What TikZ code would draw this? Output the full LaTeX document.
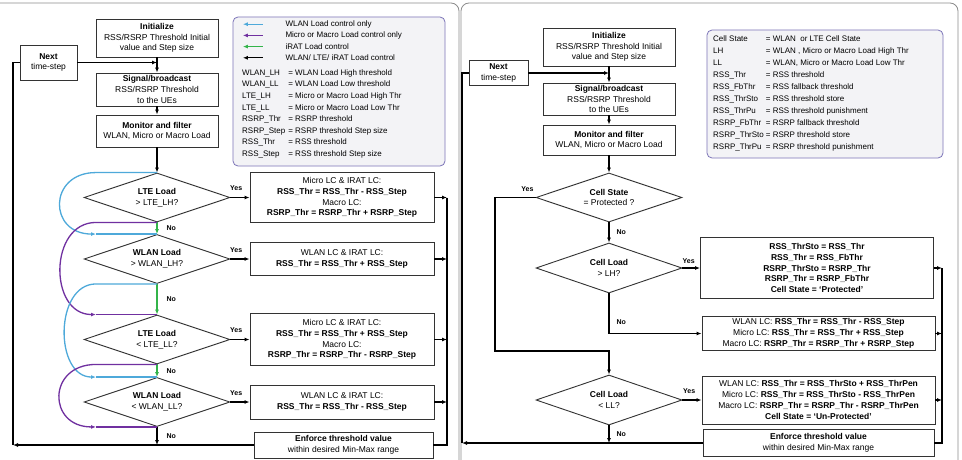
\documentclass[tikz,border=0pt]{standalone}
\usepackage{fontspec}
\setmainfont{Liberation Sans}
\usetikzlibrary{shapes.geometric,arrows.meta,calc}
\definecolor{Sky}{HTML}{4EA9DA}
\definecolor{Violet}{HTML}{7030A0}
\definecolor{Leaf}{HTML}{33B44A}
\definecolor{Frame}{HTML}{8C8C8C}
\definecolor{KeyLine}{HTML}{7C74B8}
\definecolor{KeyFill}{HTML}{F3F3F6}

\begin{document}
\begin{tikzpicture}
    [x=1pt, y=-1pt, >={Latex[length=5pt,width=4pt]},
    process/.style={draw=black!80, line width=0.9pt, fill=white, align=center, inner sep=0pt, font=\fontsize{8.5}{10.7}\selectfont},
    decision/.style={diamond, aspect=3, draw=black!80, line width=0.9pt, fill=white, inner sep=0pt, minimum width=146pt, minimum height=49pt, align=center, font=\fontsize{8.5}{10.7}\selectfont},
    flow/.style={line width=1.2pt, ->},
    wire/.style={line width=1.2pt},
    answer/.style={font=\bfseries\fontsize{7}{8}\selectfont, inner sep=1pt},
    keybox/.style={draw=KeyLine, fill=KeyFill, line width=0.8pt, rounded corners=5pt},
    panel/.style={draw=Frame, line width=0.8pt, rounded corners=8pt},
    loop/.style={line width=1.3pt}]

    \clip (0,0) rectangle (962,460);
    \fill[white] (0,0) rectangle (962,460);
    \draw[panel] (-10,3) rectangle (459,475);
    \draw[panel] (461,3) rectangle (958,475);

    % legend, left panel
    \draw[keybox] (233,17) rectangle (445,166);
    \matrix (keyArrows) [anchor=north west, inner sep=0pt, row sep=0pt, column sep=22pt,
        nodes={anchor=west, inner sep=0pt, minimum height=11.2pt, font=\fontsize{8}{9}\selectfont}] at (242,18.4) {
        \draw[loop, Sky, <-] (0,0) -- (20,0); & \node {WLAN Load control only};\\
        \draw[loop, Violet, <-] (0,0) -- (20,0); & \node {Micro or Macro Load control only};\\
        \draw[loop, Leaf, <-] (0,0) -- (20,0); & \node {iRAT Load control};\\
        \draw[loop, black, <-] (0,0) -- (20,0); & \node {WLAN/ LTE/ iRAT Load control};\\
    };
    \node[anchor=north west, inner sep=0pt] (keyTermsL) at (242,67) {\fontsize{8}{11.6}\selectfont
        \begin{tabular}{@{}l@{\hspace{3pt}}l@{}}
        WLAN\_LH & = WLAN Load High threshold\\
        WLAN\_LL & = WLAN Load Low threshold\\
        LTE\_LH & = Micro or Macro Load High Thr\\
        LTE\_LL & = Micro or Macro Load Low Thr\\
        RSRP\_Thr & = RSRP threshold\\
        RSRP\_Step & = RSRP threshold Step size\\
        RSS\_Thr & = RSS threshold\\
        RSS\_Step & = RSS threshold Step size
        \end{tabular}};

    % legend, right panel
    \draw[keybox] (707,30) rectangle (943,158);
    \node[anchor=north west, inner sep=0pt] (keyTermsR) at (713,32.8) {\fontsize{8}{12.05}\selectfont
        \begin{tabular}{@{}l@{\hspace{2pt}}l@{}}
        Cell State & = WLAN\ \ or LTE Cell State\\
        LH & = WLAN , Micro or Macro Load High Thr\\
        LL & = WLAN, Micro or Macro Load Low Thr\\
        RSS\_Thr & = RSS threshold\\
        RSS\_FbThr & = RSS fallback threshold\\
        RSS\_ThrSto & = RSS threshold store\\
        RSS\_ThrPu & = RSS threshold punishment\\
        RSRP\_FbThr & = RSRP fallback threshold\\
        RSRP\_ThrSto & = RSRP threshold store\\
        RSRP\_ThrPu & = RSRP threshold punishment
        \end{tabular}};

    % left flow chart
    \node[process, minimum width=122pt, minimum height=38pt] (init) at (157,38) {\textbf{Initialize}\\RSS/RSRP Threshold Initial\\value and Step size};
    \node[process, minimum width=57pt, minimum height=35pt] (next) at (48.5,62.5) {\textbf{Next}\\time-step};
    \node[process, minimum width=122pt, minimum height=33pt] (signal) at (157,89.5) {\textbf{Signal/broadcast}\\RSS/RSRP Threshold\\to the UEs};
    \node[process, minimum width=122pt, minimum height=32pt] (monitor) at (157,131) {\textbf{Monitor and filter}\\WLAN, Micro or Macro Load};

    \node[decision] (lteHigh) at (157,197.5) {\textbf{LTE Load}\\> LTE\_LH?};
    \node[decision] (wlanHigh) at (157,259) {\textbf{WLAN Load}\\> WLAN\_LH?};
    \node[decision] (lteLow) at (157,339.5) {\textbf{LTE Load}\\< LTE\_LL?};
    \node[decision] (wlanLow) at (157,402) {\textbf{WLAN Load}\\< WLAN\_LL?};

    \node[process, minimum width=184pt, minimum height=50pt] (lteHighAct) at (342,197.5) {Micro LC \& IRAT LC:\\\textbf{RSS\_Thr = RSS\_Thr - RSS\_Step}\\Macro LC:\\\textbf{RSRP\_Thr = RSRP\_Thr + RSRP\_Step}};
    \node[process, minimum width=184pt, minimum height=33pt] (wlanHighAct) at (342,259) {WLAN LC \& IRAT LC:\\\textbf{RSS\_Thr = RSS\_Thr + RSS\_Step}};
    \node[process, minimum width=184pt, minimum height=52pt] (lteLowAct) at (342,339.5) {Micro LC \& IRAT LC:\\\textbf{RSS\_Thr = RSS\_Thr + RSS\_Step}\\Macro LC:\\\textbf{RSRP\_Thr = RSRP\_Thr - RSRP\_Step}};
    \node[process, minimum width=184pt, minimum height=34pt] (wlanLowAct) at (342,402) {WLAN LC \& IRAT LC:\\\textbf{RSS\_Thr = RSS\_Thr - RSS\_Step}};
    \node[process, minimum width=179pt, minimum height=26pt] (enforce) at (343.5,445) {\textbf{Enforce threshold value}\\within desired Min-Max range};

    \coordinate (mergeL) at (447,0);
    \coordinate (backL) at (13,0);

    \draw[flow] (init) -- (signal);
    \draw[flow] (next.east) -- (next.east -| init.south);
    \draw[flow] (signal) -- (monitor);
    \draw[flow] (monitor) -- (lteHigh.north);
    \draw[flow, Leaf] (lteHigh.south) -- node[answer, right=8pt, text=black] {No} (wlanHigh.north);
    \draw[flow, Leaf] (wlanHigh.south) -- node[answer, right=8pt, text=black] {No} (lteLow.north);
    \draw[flow, Leaf] (lteLow.south) -- node[answer, right=8pt, text=black] {No} (wlanLow.north);
    \draw[flow] (wlanLow.south) -- node[answer, right=8pt] {No} (wlanLow.south |- enforce.west);

    \draw[flow] (lteHigh.east) -- node[answer, above, pos=0.3, yshift=5pt] {Yes} (lteHighAct.west);
    \draw[flow] (wlanHigh.east) -- node[answer, above, pos=0.3, yshift=5pt] {Yes} (wlanHighAct.west);
    \draw[flow] (lteLow.east) -- node[answer, above, pos=0.3, yshift=5pt] {Yes} (lteLowAct.west);
    \draw[flow] (wlanLow.east) -- node[answer, above, pos=0.3, yshift=5pt] {Yes} (wlanLowAct.west);

    \draw[flow] (lteHighAct.east) -- (lteHighAct.east -| mergeL);
    \draw[flow] (wlanHighAct.east) -- (wlanHighAct.east -| mergeL);
    \draw[flow] (lteLowAct.east) -- (lteLowAct.east -| mergeL);
    \draw[flow] (wlanLowAct.east) -- (wlanLowAct.east -| mergeL);
    \draw[wire] (lteHighAct.east -| mergeL) |- (enforce.east);
    \draw[flow] (enforce.west) -- (enforce.west -| backL);
    \draw[wire] (enforce.west -| backL) |- (next.west);

    % bypass loops
    \draw[loop, Sky, ->] (lteHigh.north) -- ++(-61,0) to[out=180, in=180, looseness=2] ($(wlanHigh.north)+(-61,0)$);
    \draw[loop, Sky] ($(wlanHigh.north)+(-61,0)$) -- (wlanHigh.north);
    \draw[loop, Violet, ->] (lteHigh.south) -- ++(-61,0) to[out=180, in=180, looseness=1.32] ($(lteLow.north)+(-61,0)$);
    \draw[loop, Violet] ($(lteLow.north)+(-61,0)$) -- (lteLow.north);
    \draw[loop, Sky, ->] (wlanHigh.south) -- ++(-61,0) to[out=180, in=180, looseness=1.15] ($(wlanLow.north)+(-61,0)$);
    \draw[loop, Sky] ($(wlanLow.north)+(-61,0)$) -- (wlanLow.north);
    \draw[loop, Violet, ->] (lteLow.south) -- ++(-61,0) to[out=180, in=180, looseness=2] ($(wlanLow.south)+(-61,0)$);
    \draw[loop, Violet] ($(wlanLow.south)+(-61,0)$) -- (wlanLow.south);

    % right flow chart
    \node[process, minimum width=132pt, minimum height=38pt] (init2) at (609,47) {\textbf{Initialize}\\RSS/RSRP Threshold Initial\\value and Step size};
    \node[process, minimum width=59pt, minimum height=25pt] (next2) at (498.5,73) {\textbf{Next}\\time-step};
    \node[process, minimum width=132pt, minimum height=32pt] (signal2) at (609,99) {\textbf{Signal/broadcast}\\RSS/RSRP Threshold\\to the UEs};
    \node[process, minimum width=132pt, minimum height=30pt] (monitor2) at (609,140) {\textbf{Monitor and filter}\\WLAN, Micro or Macro Load};

    \node[decision] (state) at (609,197.5) {\textbf{Cell State}\\= Protected ?};
    \node[decision, minimum height=50pt] (loadHigh) at (609,268) {\textbf{Cell Load}\\> LH?};
    \node[decision, minimum height=50pt] (loadLow) at (609,400) {\textbf{Cell Load}\\< LL?};

    \node[process, minimum width=233pt, minimum height=61pt, font=\bfseries\fontsize{8.5}{10.8}\selectfont] (protect) at (817,268) {RSS\_ThrSto = RSS\_Thr\\RSS\_Thr = RSS\_FbThr\\RSRP\_ThrSto = RSRP\_Thr\\RSRP\_Thr = RSRP\_FbThr\\Cell State = `Protected'};
    \node[process, minimum width=233pt, minimum height=34pt] (stepAct) at (818.5,333.5) {WLAN LC: \textbf{RSS\_Thr = RSS\_Thr - RSS\_Step}\\Micro LC: \textbf{RSS\_Thr = RSS\_Thr + RSS\_Step}\\Macro LC: \textbf{RSRP\_Thr = RSRP\_Thr + RSRP\_Step}};
    \node[process, minimum width=233pt, minimum height=48pt] (unprotect) at (818.5,400) {WLAN LC: \textbf{RSS\_Thr = RSS\_ThrSto + RSS\_ThrPen}\\Micro LC: \textbf{RSS\_Thr = RSS\_ThrSto - RSS\_ThrPen}\\Macro LC: \textbf{RSRP\_Thr = RSRP\_Thr - RSRP\_ThrPen}\\\textbf{Cell State = `Un-Protected'}};
    \node[process, minimum width=231pt, minimum height=27pt] (enforce2) at (818.5,443) {\textbf{Enforce threshold value}\\within desired Min-Max range};

    \coordinate (mergeR) at (942,0);
    \coordinate (backR) at (462,0);
    \coordinate (skip) at (495,351);

    \draw[flow] (init2) -- (signal2);
    \draw[flow] (next2.east) -- (next2.east -| init2.south);
    \draw[flow] (signal2) -- (monitor2);
    \draw[flow] (monitor2) -- (state.north);
    \draw[flow] (state.south) -- node[answer, right=6pt] {No} (loadHigh.north);
    \draw[flow] (state.west) -- node[answer, above, pos=0.2, yshift=4pt] {Yes} (state.west -| skip) -- (skip) -| (loadLow.north);
    \draw[flow] (loadHigh.east) -- node[answer, above, pos=0.35, yshift=3pt] {Yes} (protect.west);
    \draw[flow] (loadHigh.south) |- node[answer, right=6pt, pos=0.36] {No} (stepAct.west);
    \draw[flow] (loadLow.east) -- node[answer, above, pos=0.35, yshift=5pt] {Yes} (unprotect.west);
    \draw[flow] (loadLow.south) -- node[answer, right=6pt] {No} (loadLow.south |- enforce2.west);

    \draw[flow] (protect.east) -- (protect.east -| mergeR);
    \draw[flow] (stepAct.east) -- (stepAct.east -| mergeR);
    \draw[flow] (unprotect.east) -- (unprotect.east -| mergeR);
    \draw[wire] (protect.east -| mergeR) |- (enforce2.east);
    \draw[flow] (enforce2.west) -- (enforce2.west -| backR);
    \draw[wire] (enforce2.west -| backR) |- (next2.west);
\end{tikzpicture}
\end{document}
